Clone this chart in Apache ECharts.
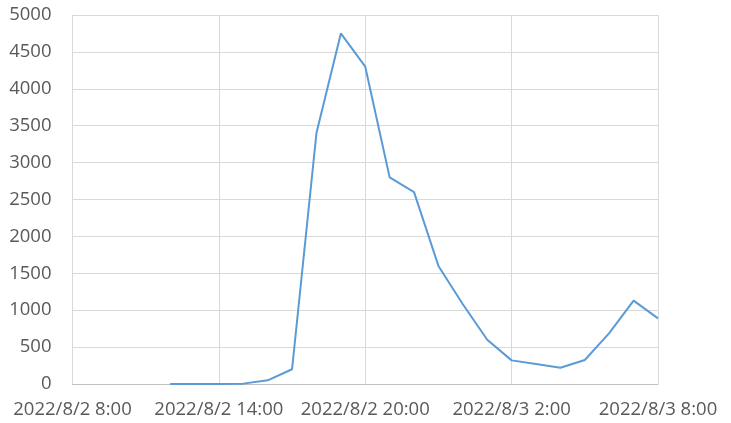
<!DOCTYPE html>
<html>
<head>
<meta charset="utf-8">
<script src="https://cdn.jsdelivr.net/npm/echarts@6/dist/echarts.min.js"></script>
<style>
html, body { margin: 0; padding: 0; background: #fff; }
#main { width: 731px; height: 423px; }
</style>
</head>
<body>
<div id="main"></div>
<script>
// hourly from 2022/8/2 8:00 to 2022/8/3 8:00
var hours = ['2022/8/2 8:00','2022/8/2 9:00','2022/8/2 10:00','2022/8/2 11:00',
    '2022/8/2 12:00','2022/8/2 13:00','2022/8/2 14:00','2022/8/2 15:00',
    '2022/8/2 16:00','2022/8/2 17:00','2022/8/2 18:00','2022/8/2 19:00',
    '2022/8/2 20:00','2022/8/2 21:00','2022/8/2 22:00','2022/8/2 23:00',
    '2022/8/3 0:00','2022/8/3 1:00','2022/8/3 2:00','2022/8/3 3:00',
    '2022/8/3 4:00','2022/8/3 5:00','2022/8/3 6:00','2022/8/3 7:00',
    '2022/8/3 8:00'];
var values = [null, null, null, null,
    0, 0, 0, 5,
    50, 200, 3400, 4750,
    4300, 2800, 2600, 1600,
    1080, 600, 320, 270,
    220, 325, 690, 1130,
    890];

var myChart = echarts.init(document.getElementById('main'));
var option = {
    animation: false,
    grid: {
        left: 72.5,
        right: 73,
        top: 15,
        bottom: 39
    },
    xAxis: {
        type: 'category',
        boundaryGap: false,
        data: hours,
        axisTick: { show: false },
        axisLine: { lineStyle: { color: '#bfbfbf', width: 1 } },
        axisLabel: {
            interval: 5,
            color: '#595959',
            fontFamily: 'Open Sans',
            fontSize: 18.5,
            margin: 16,
            showMaxLabel: true
        },
        splitLine: {
            show: true,
            interval: 5,
            lineStyle: { color: '#d9d9d9', width: 1 }
        }
    },
    yAxis: {
        type: 'value',
        min: 0,
        max: 5000,
        interval: 500,
        axisLine: { show: true, lineStyle: { color: '#d9d9d9' } },
        axisTick: { show: false },
        axisLabel: {
            color: '#595959',
            fontFamily: 'Open Sans',
            fontSize: 18.5,
            margin: 21,
            formatter: function (v) { return String(v); }
        },
        splitLine: { lineStyle: { color: '#d9d9d9', width: 1 } }
    },
    series: [
        {
            type: 'line',
            data: values,
            showSymbol: false,
            connectNulls: false,
            lineStyle: { color: '#5b9bd5', width: 2 },
            itemStyle: { color: '#5b9bd5' }
        }
    ]
};
myChart.setOption(option);
</script>
</body>
</html>
